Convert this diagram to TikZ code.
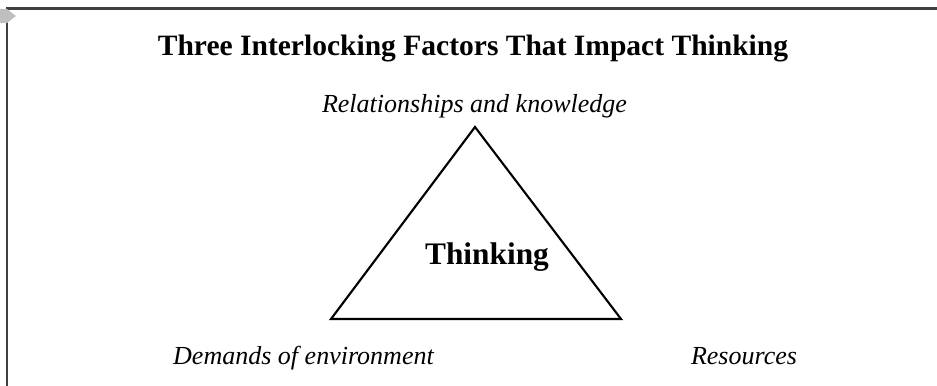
\documentclass[tikz,border=0pt]{standalone}
\usepackage{fontspec}
\setmainfont{Liberation Serif}
\usepackage{tikz}
\usetikzlibrary{positioning,calc}

\begin{document}
\begin{tikzpicture}[
  x=0.025cm, y=0.025cm,
  heading/.style={anchor=base, font=\bfseries\fontsize{21}{25}\selectfont},
  factor/.style={anchor=base, font=\itshape\fontsize{18.5}{22}\selectfont},
  core/.style={anchor=base, font=\bfseries\fontsize{22.3}{26}\selectfont},
  frameline/.style={draw=black!75, line width=1.8pt}
]
\useasboundingbox (0,0) rectangle (937,386);
% frame along the top and left edge
\coordinate (fl) at (7,0);
\coordinate (ftl) at (7,377.5);
\coordinate (ftr) at (937,377.5);
\draw[frameline] (fl) -- (ftl) -- (ftr);
\fill[black!25] (0,377) -- (7,377) -- (16,370) -- (7,363) -- (0,363) -- cycle;
% triangle
\coordinate (apex) at (475,259);
\coordinate (bl) at (331,67);
\coordinate (br) at (621,67);
\draw[line width=1.5pt, line join=miter] (apex) -- (bl) -- (br) -- cycle;
\node[heading] (title) at (473,330) {Three Interlocking Factors That Impact Thinking};
\node[factor] (rel) at (474.5,273) {Relationships and knowledge};
\node[core] (thinking) at (487,121) {Thinking};
\node[factor] (demands) at (303.5,21) {Demands of environment};
\node[factor] (resources) at (744,21) {Resources};
\end{tikzpicture}
\end{document}
